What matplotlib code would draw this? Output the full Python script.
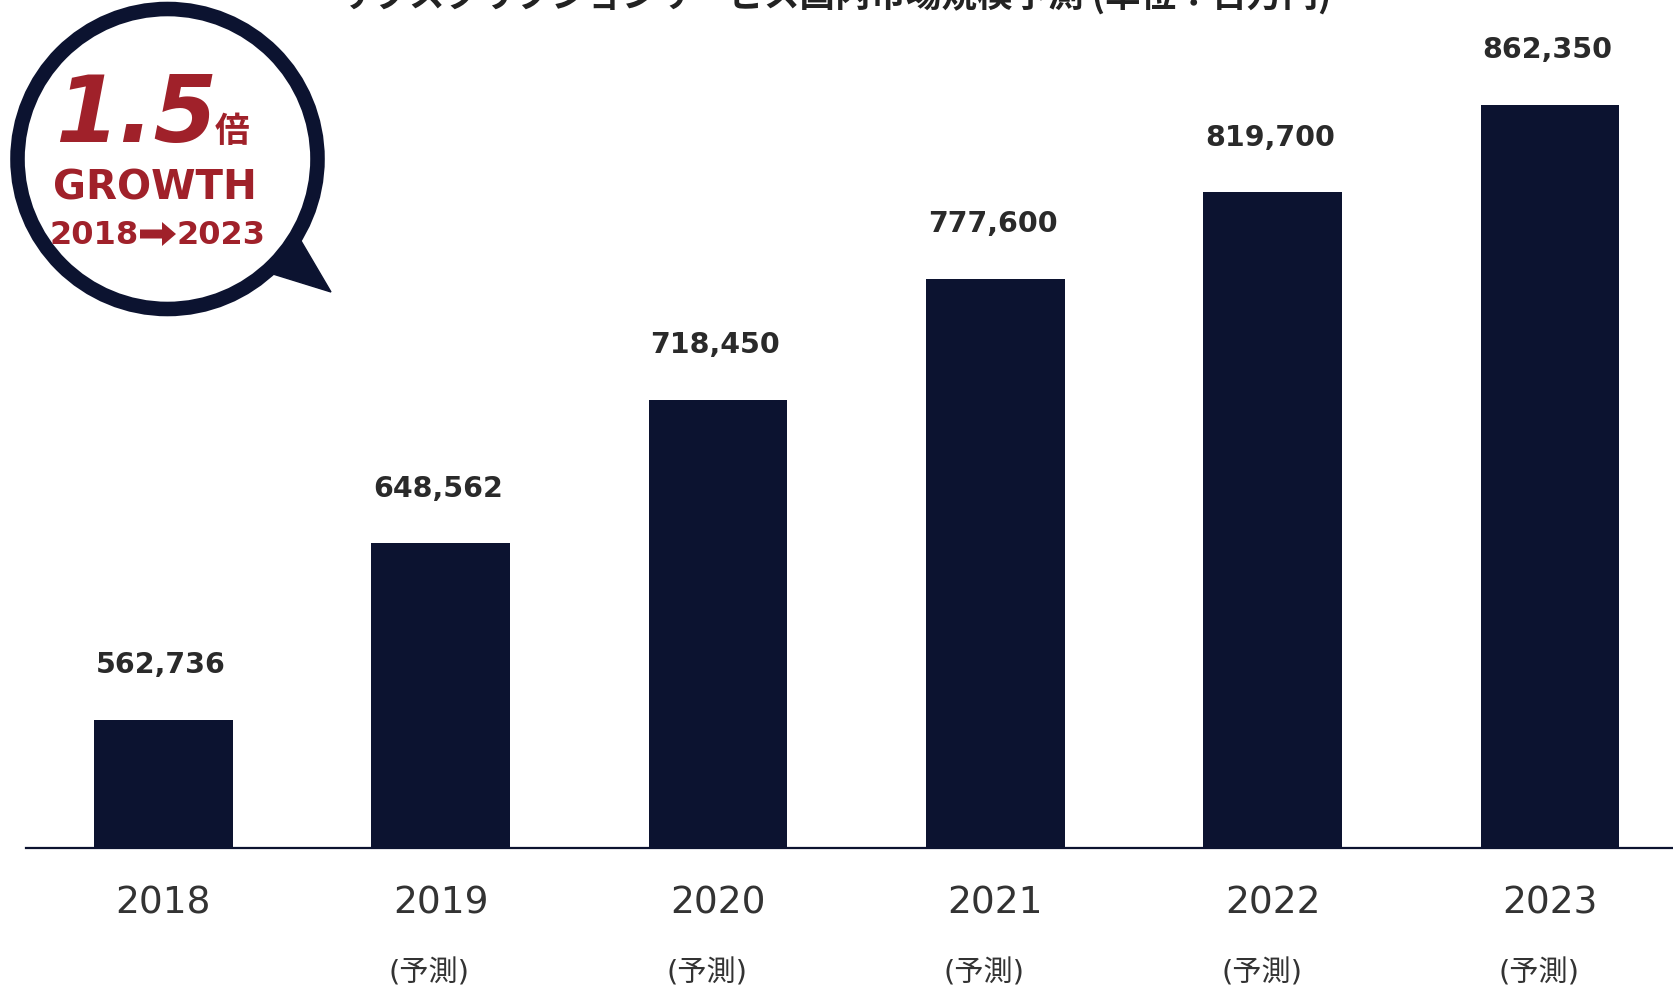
import matplotlib.pyplot as plt
from matplotlib.patches import Circle, Polygon, FancyArrow

plt.rcParams['font.family'] = ['DejaVu Sans', 'Noto Sans CJK JP']

years = ['2018', '2019', '2020', '2021', '2022', '2023']
values = [562736, 648562, 718450, 777600, 819700, 862350]
forecast = [False, True, True, True, True, True]
title = 'サブスクリプションサービス国内市場規模予測 (単位：百万円)'

navy = '#0c1330'
red = '#a0212a'
W, H = 1673, 987

fig = plt.figure(figsize=(W / 100, H / 100), dpi=100)
ax = fig.add_axes([25.6 / W, 137.7 / H, 1 - 25.6 / W, 849.3 / H])

x = range(len(years))
ax.bar(x, values, width=0.5, color=navy, zorder=2)
ax.set_ylim(500000, 913800)
ax.set_xlim(-0.496, 5.443)

for i, v in enumerate(values):
    ax.annotate(f'{v:,}', (i, v), xytext=(-2, 40), textcoords='offset points',
                ha='center', va='center', fontsize=20.5, fontweight='bold', color='#2a2a2a')

# year labels + (予測) under the axis
ax.set_xticks([])
ax.set_yticks([])
for s in ['top', 'right', 'left']:
    ax.spines[s].set_visible(False)
ax.spines['bottom'].set_color(navy)
ax.spines['bottom'].set_linewidth(1.6)
tr = ax.get_xaxis_transform()
for i, y in enumerate(years):
    ax.annotate(y, (i, 0), xycoords=tr, xytext=(0, -39), textcoords='offset points',
                ha='center', va='center', fontsize=27, color='#333333')
    if forecast[i]:
        ax.annotate('(予測)', (i, 0), xycoords=tr, xytext=(-8, -89), textcoords='offset points',
                    ha='center', va='center', fontsize=21, color='#333333',
                    family=['DejaVu Sans', 'Noto Sans CJK JP'])

fig.text(835 / W, 1 + 4 / H, title, ha='center', va='center', fontsize=25.6,
         fontweight='bold', color='#222222', family=['Noto Sans CJK JP', 'DejaVu Sans'])

# speech bubble badge, drawn in pixel coords
bx = fig.add_axes([0, 0, 1, 1], zorder=5)
bx.set_xlim(0, W)
bx.set_ylim(H, 0)
bx.axis('off')
bx.add_patch(Polygon([(260, 271), (294, 230), (331, 293)], closed=True, color=navy, zorder=1))
bx.add_patch(Circle((167.5, 160), 150, facecolor='white', edgecolor=navy, lw=10.5, zorder=2))
bx.text(55, 142, '1.5', ha='left', va='baseline', fontsize=66, fontweight='bold',
        style='italic', color=red, zorder=3)
bx.text(215, 142, '倍', ha='left', va='baseline', fontsize=25, fontweight='bold', color=red,
        family=['Noto Sans CJK JP'], zorder=3)
bx.text(155, 189, 'GROWTH', ha='center', va='center', fontsize=29, fontweight='bold',
        color=red, zorder=3)
bx.text(139, 236, '2018', ha='right', va='center', fontsize=23, fontweight='bold',
        color=red, zorder=3)
bx.text(177, 236, '2023', ha='left', va='center', fontsize=23, fontweight='bold',
        color=red, zorder=3)
bx.add_patch(FancyArrow(140, 235, 36, 0, width=9, head_width=24, head_length=14,
                        length_includes_head=True, color=red, lw=0, zorder=3))

fig.savefig('out.png', dpi=100)
